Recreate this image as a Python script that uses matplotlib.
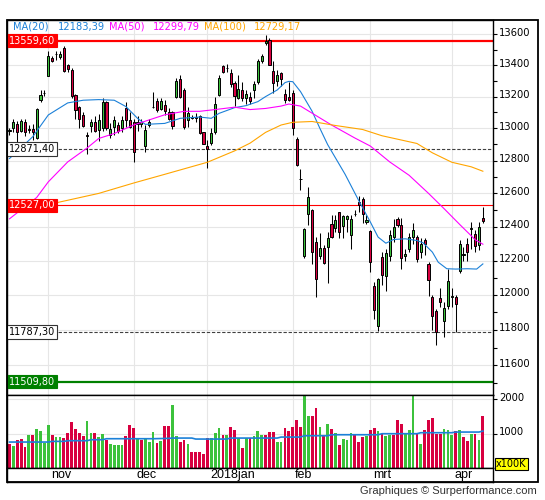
import matplotlib
matplotlib.use("Agg")
import matplotlib.pyplot as plt
import matplotlib.transforms as mtransforms
from matplotlib.patches import Rectangle
from matplotlib.ticker import FixedLocator, NullFormatter

# daily candles, index 0 = first session on the chart (oct 2017 .. apr 2018)
opens = [
    12985, 13000, 13025, 12984, 13042, 12992, 12996, 12942, 13177, 13222,
    13333, 13447, 13470, 13452, 13513, 13400, 13372, 13207, 13137, 13085,
    12960, 13017, 13042, 12990, 13000, 13164, 12959, 13011, 13021, 13000,
    13126, 13053, 13040, 13025, 13030, 12893, 13021, 13137, 13175, 13120,
    13145, 13100, 13100, 13200, 13310, 13245, 13055, 13068, 13070, 13075,
    12975, 12890, 12906, 12975, 13210, 13395, 13382, 13352, 13287, 13193,
    13239, 13190, 13198, 13243, 13290, 13428, 13545, 13567, 13365, 13298,
    13350, 13215, 13198, 13226, 12935, 12690, 12225, 12477, 12497, 12311,
    12225, 12272, 12278, 12417, 12390, 12487, 12403, 12447, 12348, 12475,
    12550, 12568, 12425, 12372, 12050, 11820, 12220, 12110, 12227, 12338,
    12448, 12413, 12225, 12268, 12338, 12338, 12250, 12322, 12180, 11990,
    11910, 11985, 11852, 11937, 11990, 11990, 12140, 12235, 12298, 12385,
    12358, 12290, 12450]
highs = [
    13005, 13059, 13045, 13059, 13059, 13020, 13030, 13130, 13241, 13241,
    13491, 13458, 13491, 13491, 13524, 13410, 13380, 13215, 13140, 13105,
    12980, 13060, 13080, 13090, 13190, 13175, 13032, 13080, 13040, 13080,
    13164, 13105, 13060, 13080, 13059, 13021, 13059, 13230, 13190, 13190,
    13180, 13125, 13110, 13320, 13335, 13255, 13137, 13085, 13094, 13085,
    12980, 12925, 13000, 13195, 13335, 13405, 13410, 13375, 13300, 13340,
    13290, 13240, 13230, 13300, 13440, 13470, 13597, 13580, 13430, 13370,
    13357, 13250, 13290, 13240, 12945, 12750, 12395, 12640, 12507, 12337,
    12365, 12290, 12367, 12470, 12467, 12487, 12467, 12467, 12467, 12497,
    12585, 12578, 12470, 12378, 12075, 12100, 12250, 12270, 12380, 12445,
    12460, 12450, 12270, 12360, 12420, 12350, 12330, 12330, 12190, 12000,
    11920, 12040, 11957, 12150, 12040, 12000, 12320, 12280, 12330, 12430,
    12380, 12430, 12515]
lows = [
    12960, 12980, 12918, 12975, 12950, 12970, 12930, 12934, 13168, 13205,
    13330, 13420, 13436, 13440, 13360, 13360, 13190, 13060, 13000, 13010,
    12839, 12980, 12980, 12920, 12985, 12990, 12940, 12960, 12970, 12980,
    13010, 13000, 12794, 12985, 13011, 12855, 13011, 13126, 13105, 13115,
    13085, 13050, 12994, 13190, 13190, 12995, 13011, 13059, 13040, 12965,
    12900, 12757, 12895, 12965, 13205, 13350, 13360, 13260, 13140, 13185,
    13170, 13150, 13150, 13190, 13280, 13418, 13530, 13400, 13220, 13265,
    13265, 13158, 13170, 12958, 12765, 12620, 12215, 12410, 12180, 11990,
    12210, 12180, 12068, 12330, 12370, 12330, 12330, 12370, 12268, 12465,
    12490, 12420, 12415, 12130, 11860, 11795, 12060, 12020, 12200, 12310,
    12400, 12150, 12200, 12250, 12300, 12190, 12215, 12230, 11995, 11800,
    11717, 11930, 11757, 11920, 11930, 11787, 12125, 12200, 12200, 12270,
    12250, 12260, 12420]
closes = [
    12990, 13038, 12980, 13046, 12980, 12998, 12980, 13122, 13211, 13226,
    13458, 13430, 13472, 13470, 13365, 13378, 13205, 13115, 13059, 13017,
    12953, 13042, 12984, 13050, 13164, 13000, 12996, 13053, 12984, 13051,
    13053, 13011, 12855, 13042, 13038, 12990, 13042, 13135, 13115, 13172,
    13110, 13060, 13017, 13300, 13200, 13010, 13094, 13070, 13068, 12970,
    12905, 12871, 12969, 13150, 13318, 13360, 13385, 13277, 13202, 13246,
    13193, 13215, 13170, 13280, 13428, 13460, 13560, 13404, 13286, 13340,
    13310, 13180, 13180, 13003, 12773, 12687, 12385, 12578, 12248, 12092,
    12272, 12184, 12330, 12336, 12441, 12367, 12461, 12461, 12447, 12478,
    12527, 12477, 12440, 12190, 11914, 12090, 12114, 12245, 12348, 12399,
    12410, 12215, 12240, 12338, 12378, 12209, 12300, 12298, 12088, 11880,
    11787, 11960, 11927, 12082, 11992, 11945, 12298, 12237, 12250, 12390,
    12285, 12401, 12435]

# volume in units of 100K, colour as shown (g/r)
volumes = [
    689, 630, 805, 834, 611, 951, 951, 1126, 1068, 728,
    1243, 951, 893, 893, 864, 1009, 1330, 1126, 1009, 922,
    1359, 1009, 1009, 893, 980, 805, 689, 659, 659, 659,
    922, 1243, 1155, 864, 805, 834, 747, 1038, 718, 776,
    1213, 1213, 1826, 922, 747, 805, 689, 455, 455, 455,
    416, 864, 864, 1009, 1155, 951, 951, 1184, 1097, 864,
    572, 873, 873, 922, 1087, 970, 970, 1058, 1058, 766,
    766, 1155, 1087, 1204, 1408, 1204, 2300, 1524, 1524, 1758,
    1204, 922, 1291, 1126, 1029, 659, 854, 825, 1029, 951,
    757, 893, 922, 1116, 1175, 1077, 1000, 922, 951, 951,
    1388, 1291, 1029, 1097, 2300, 1000, 708, 1097, 1388, 1466,
    1000, 1000, 1126, 1116, 951, 1077, 1116, 893, 795, 1000,
    1000, 825, 1524]
vol_dir = ("rgrrrgrggg" "grggrrrrrr" "ggrggrgggg" "rrrgrgggrg" "rrggrrgrrr"
           "rrgggrgrrg" "rgrgggrrrg" "grrrrrggrr" "grgrgrgggr" "rrgrrgrggr"
           "rrgggrgrrr" "rrgggrgrrg" "rgr")

# moving averages (candle index, value)
ma20_idx = [0, 6, 10, 15, 19, 23, 27, 30, 33, 35, 40, 44, 49, 52, 54, 58, 61, 64, 66,
            69, 71, 72, 73, 75, 78, 80, 82, 86.5, 90, 93, 95, 97, 99, 102, 105, 106.6,
            109, 110.5, 112.7, 115, 118, 120.4, 122]
ma20_val = [12813, 12948, 13084, 13160, 13177, 13181, 13177, 13137, 13063, 13025, 13031,
            13063, 13071, 13063, 13094, 13130, 13143, 13168, 13200, 13242, 13289, 13297,
            13295, 13232, 13107, 13000, 12899, 12716, 12557, 12428, 12338, 12302, 12324,
            12328, 12318, 12304, 12249, 12190, 12152, 12150, 12152, 12150, 12180]
ma50_idx = [0, 7, 10, 15, 20, 23, 27, 32, 36, 40, 45, 49, 53, 58, 62, 66, 70, 72, 75, 77,
            83, 89, 93, 98, 103, 108, 112, 116, 120, 122]
ma50_val = [12447, 12575, 12670, 12792, 12878, 12937, 12968, 13021, 13053, 13085, 13107,
            13107, 13118, 13133, 13118, 13125, 13140, 13153, 13140, 13110, 13021, 12940,
            12890, 12792, 12710, 12600, 12508, 12414, 12323, 12296]
ma100_idx = [12, 23, 32, 40, 51, 58, 62, 66, 70, 73, 78, 84, 91, 96, 105, 109, 114, 119, 122]
ma100_val = [12543, 12600, 12663, 12716, 12790, 12860, 12908, 12975, 13021, 13038, 13043,
             13018, 12993, 12954, 12906, 12848, 12790, 12762, 12735]
vma_idx = [0, 10, 11, 14, 15, 20, 21, 24, 25, 37, 41, 42, 47, 48, 56, 57, 69, 70, 75, 76,
           82, 83, 95, 96, 105, 106, 114, 115, 121, 122]
vma_val = [757, 757, 776, 776, 796, 796, 825, 825, 854, 854, 864, 873, 873, 844, 844, 873,
           873, 902, 902, 941, 941, 970, 970, 1000, 1000, 1029, 1029, 1048, 1048, 1077]

legend_items = [("MA(20)", "12183,39", "#1b80d8"),
                ("MA(50)", "12299,79", "#ff00ff"),
                ("MA(100)", "12729,17", "#ffa500")]

levels = [13559.60, 12871.40, 12527.00, 11787.30, 11509.80]
level_text = ["13559,60", "12871,40", "12527,00", "11787,30", "11509,80"]

price_ticks = [11600, 11800, 12000, 12200, 12400, 12600, 12800, 13000, 13200, 13400, 13600]
price_minor = [11500, 11700, 11900, 12100, 12300, 12500, 12700, 12900, 13100, 13300, 13500]
vol_ticks = [1000, 2000]
month_idx = [10, 32, 51, 73, 93, 114]
month_names = ["nov", "dec", "2018jan", "feb", "mrt", "apr"]

RED = "#d80040"
GREEN = "#3cc23c"
GRID = "#e6e6e6"
W, H = 545.0, 500.0


def box(x0, y0, x1, y1):
    return [x0 / W, 1 - y1 / H, (x1 - x0) / W, (y1 - y0) / H]


fig = plt.figure(figsize=(5.45, 5.0), dpi=100)
ax = fig.add_axes(box(6.7, 20, 493.3, 395.3))
axv = fig.add_axes(box(6.7, 395.3, 493.3, 468), sharex=ax)
axm = fig.add_axes(box(6.7, 468, 493.3, 481.5), sharex=ax)

n = len(closes)
idx = list(range(n))
ax.set_xlim(-0.72, 124.69)

# price panel
ax.set_yscale("log")
ax.set_ylim(11434.8, 13695)
for p in price_ticks:
    ax.axhline(p, color=GRID, lw=0.8, zorder=0)
for m in month_idx:
    ax.axvline(m, color=GRID, lw=0.8, zorder=0)

ax.vlines(idx, lows, highs, color="black", lw=0.75, zorder=3)
bott = [min(o, c) for o, c in zip(opens, closes)]
hgt = [max(abs(c - o), 2) for o, c in zip(opens, closes)]
cols = [GREEN if c >= o else RED for o, c in zip(opens, closes)]
ax.bar(idx, hgt, bottom=bott, width=0.55, color=cols, edgecolor="black",
       linewidth=0.7, zorder=4)

ax.plot(ma20_idx, ma20_val, color=legend_items[0][2], lw=0.8, zorder=6)
ax.plot(ma50_idx, ma50_val, color=legend_items[1][2], lw=0.8, zorder=6)
ax.plot(ma100_idx, ma100_val, color=legend_items[2][2], lw=0.8, zorder=6)

ax.axhline(levels[0], color="#ff0000", lw=1.6, zorder=2)
ax.axhline(levels[1], color="#404040", lw=0.8, dashes=(3, 1.6), zorder=2)
ax.axhline(levels[2], color="#ff0000", lw=0.8, zorder=2)
ax.axhline(levels[3], color="#404040", lw=0.8, dashes=(3, 1.6), zorder=2)
ax.axhline(levels[4], color="#008000", lw=1.6, zorder=2)

box_style = [("#ff0000", "#ff0000", "white"), ("white", "#333333", "black"),
             ("#ff0000", "#ff0000", "white"), ("white", "#333333", "black"),
             ("#008000", "#008000", "white")]
lbl_tr = mtransforms.blended_transform_factory(ax.transAxes, ax.transData) + \
    mtransforms.ScaledTranslation(2 / 100, 0, fig.dpi_scale_trans)
for v, t, (fc, ec, tc) in zip(levels, level_text, box_style):
    ax.text(0, v, t, transform=lbl_tr, ha="left", va="center", fontsize=7, color=tc,
            bbox=dict(boxstyle="square,pad=0.18", fc=fc, ec=ec, lw=0.8), zorder=10)

ax.yaxis.tick_right()
ax.yaxis.set_major_locator(FixedLocator(price_ticks))
ax.yaxis.set_minor_locator(FixedLocator(price_minor))
ax.yaxis.set_major_formatter(NullFormatter())
ax.yaxis.set_minor_formatter(NullFormatter())
ax.tick_params(axis="y", which="both", direction="out", length=3, width=0.8,
               right=True, left=False, labelright=False)
ax.tick_params(axis="x", which="both", bottom=False, labelbottom=False)
tick_tr = mtransforms.blended_transform_factory(ax.transAxes, ax.transData) + \
    mtransforms.ScaledTranslation(6 / 100, 1.5 / 100, fig.dpi_scale_trans)
for p in price_ticks:
    ax.text(1.0, p, str(p), transform=tick_tr, ha="left", va="center",
            fontsize=7.2, clip_on=False)

# legend line at the top
xs = [13, 58, 109, 153, 204, 254]
k = 0
for name, val, c in legend_items:
    fig.text(xs[k] / W, 1 - 26.7 / H, name, color=c, fontsize=7.1, ha="left", va="center")
    fig.text(xs[k + 1] / W, 1 - 26.7 / H, val, color=c, fontsize=7.1, ha="left", va="center")
    k += 2

# volume panel
axv.set_ylim(0, 2120)
for v in vol_ticks:
    axv.axhline(v, color=GRID, lw=0.8, zorder=0)
for m in month_idx:
    axv.axvline(m, color=GRID, lw=0.8, zorder=0)
vcols = [GREEN if d == "g" else RED for d in vol_dir]
axv.bar(idx, volumes, width=0.72, color=vcols, linewidth=0, zorder=2)
axv.plot(vma_idx, vma_val, color="#1b80d8", lw=1.2, zorder=3)
axv.yaxis.tick_right()
axv.yaxis.set_major_locator(FixedLocator(vol_ticks))
axv.yaxis.set_major_formatter(NullFormatter())
axv.tick_params(axis="y", direction="out", length=3, width=0.8, right=True, left=False,
                labelright=False)
axv.tick_params(axis="x", which="both", bottom=False, labelbottom=False)
vtick_tr = mtransforms.blended_transform_factory(axv.transAxes, axv.transData) + \
    mtransforms.ScaledTranslation(6 / 100, 1.5 / 100, fig.dpi_scale_trans)
for v in vol_ticks:
    axv.text(1.0, v, str(v), transform=vtick_tr, ha="left", va="center",
             fontsize=7.2, clip_on=False)

# month strip
axm.set_yticks([])
axm.tick_params(axis="x", which="both", bottom=False, labelbottom=False)
m_tr = mtransforms.blended_transform_factory(axm.transData, axm.transAxes)
for m, name in zip(month_idx, month_names):
    axm.text(m + 0.65, 0.45, name, transform=m_tr, ha="left", va="center",
             fontsize=9, family="Liberation Sans")

for a in (ax, axv, axm):
    for s in a.spines.values():
        s.set_linewidth(1.0)
        s.set_color("black")

fig.add_artist(Rectangle((6.7 / W, 1 - 481.5 / H), (538.3 - 6.7) / W, (481.5 - 20) / H,
                         transform=fig.transFigure, fill=False, ec="black", lw=1.3,
                         zorder=20))
fig.text(496 / W, 1 - 464 / H, "x100K", fontsize=7, ha="left", va="center",
         bbox=dict(boxstyle="square,pad=0.12", fc="#ffff00", ec="black", lw=0.8))
fig.text(536.7 / W, 1 - 491.3 / H, "Graphiques \u00a9 Surperformance.com", ha="right",
         va="center", fontsize=8, family="Liberation Sans", color="#333333")

fig.savefig("out.png", dpi=100)
